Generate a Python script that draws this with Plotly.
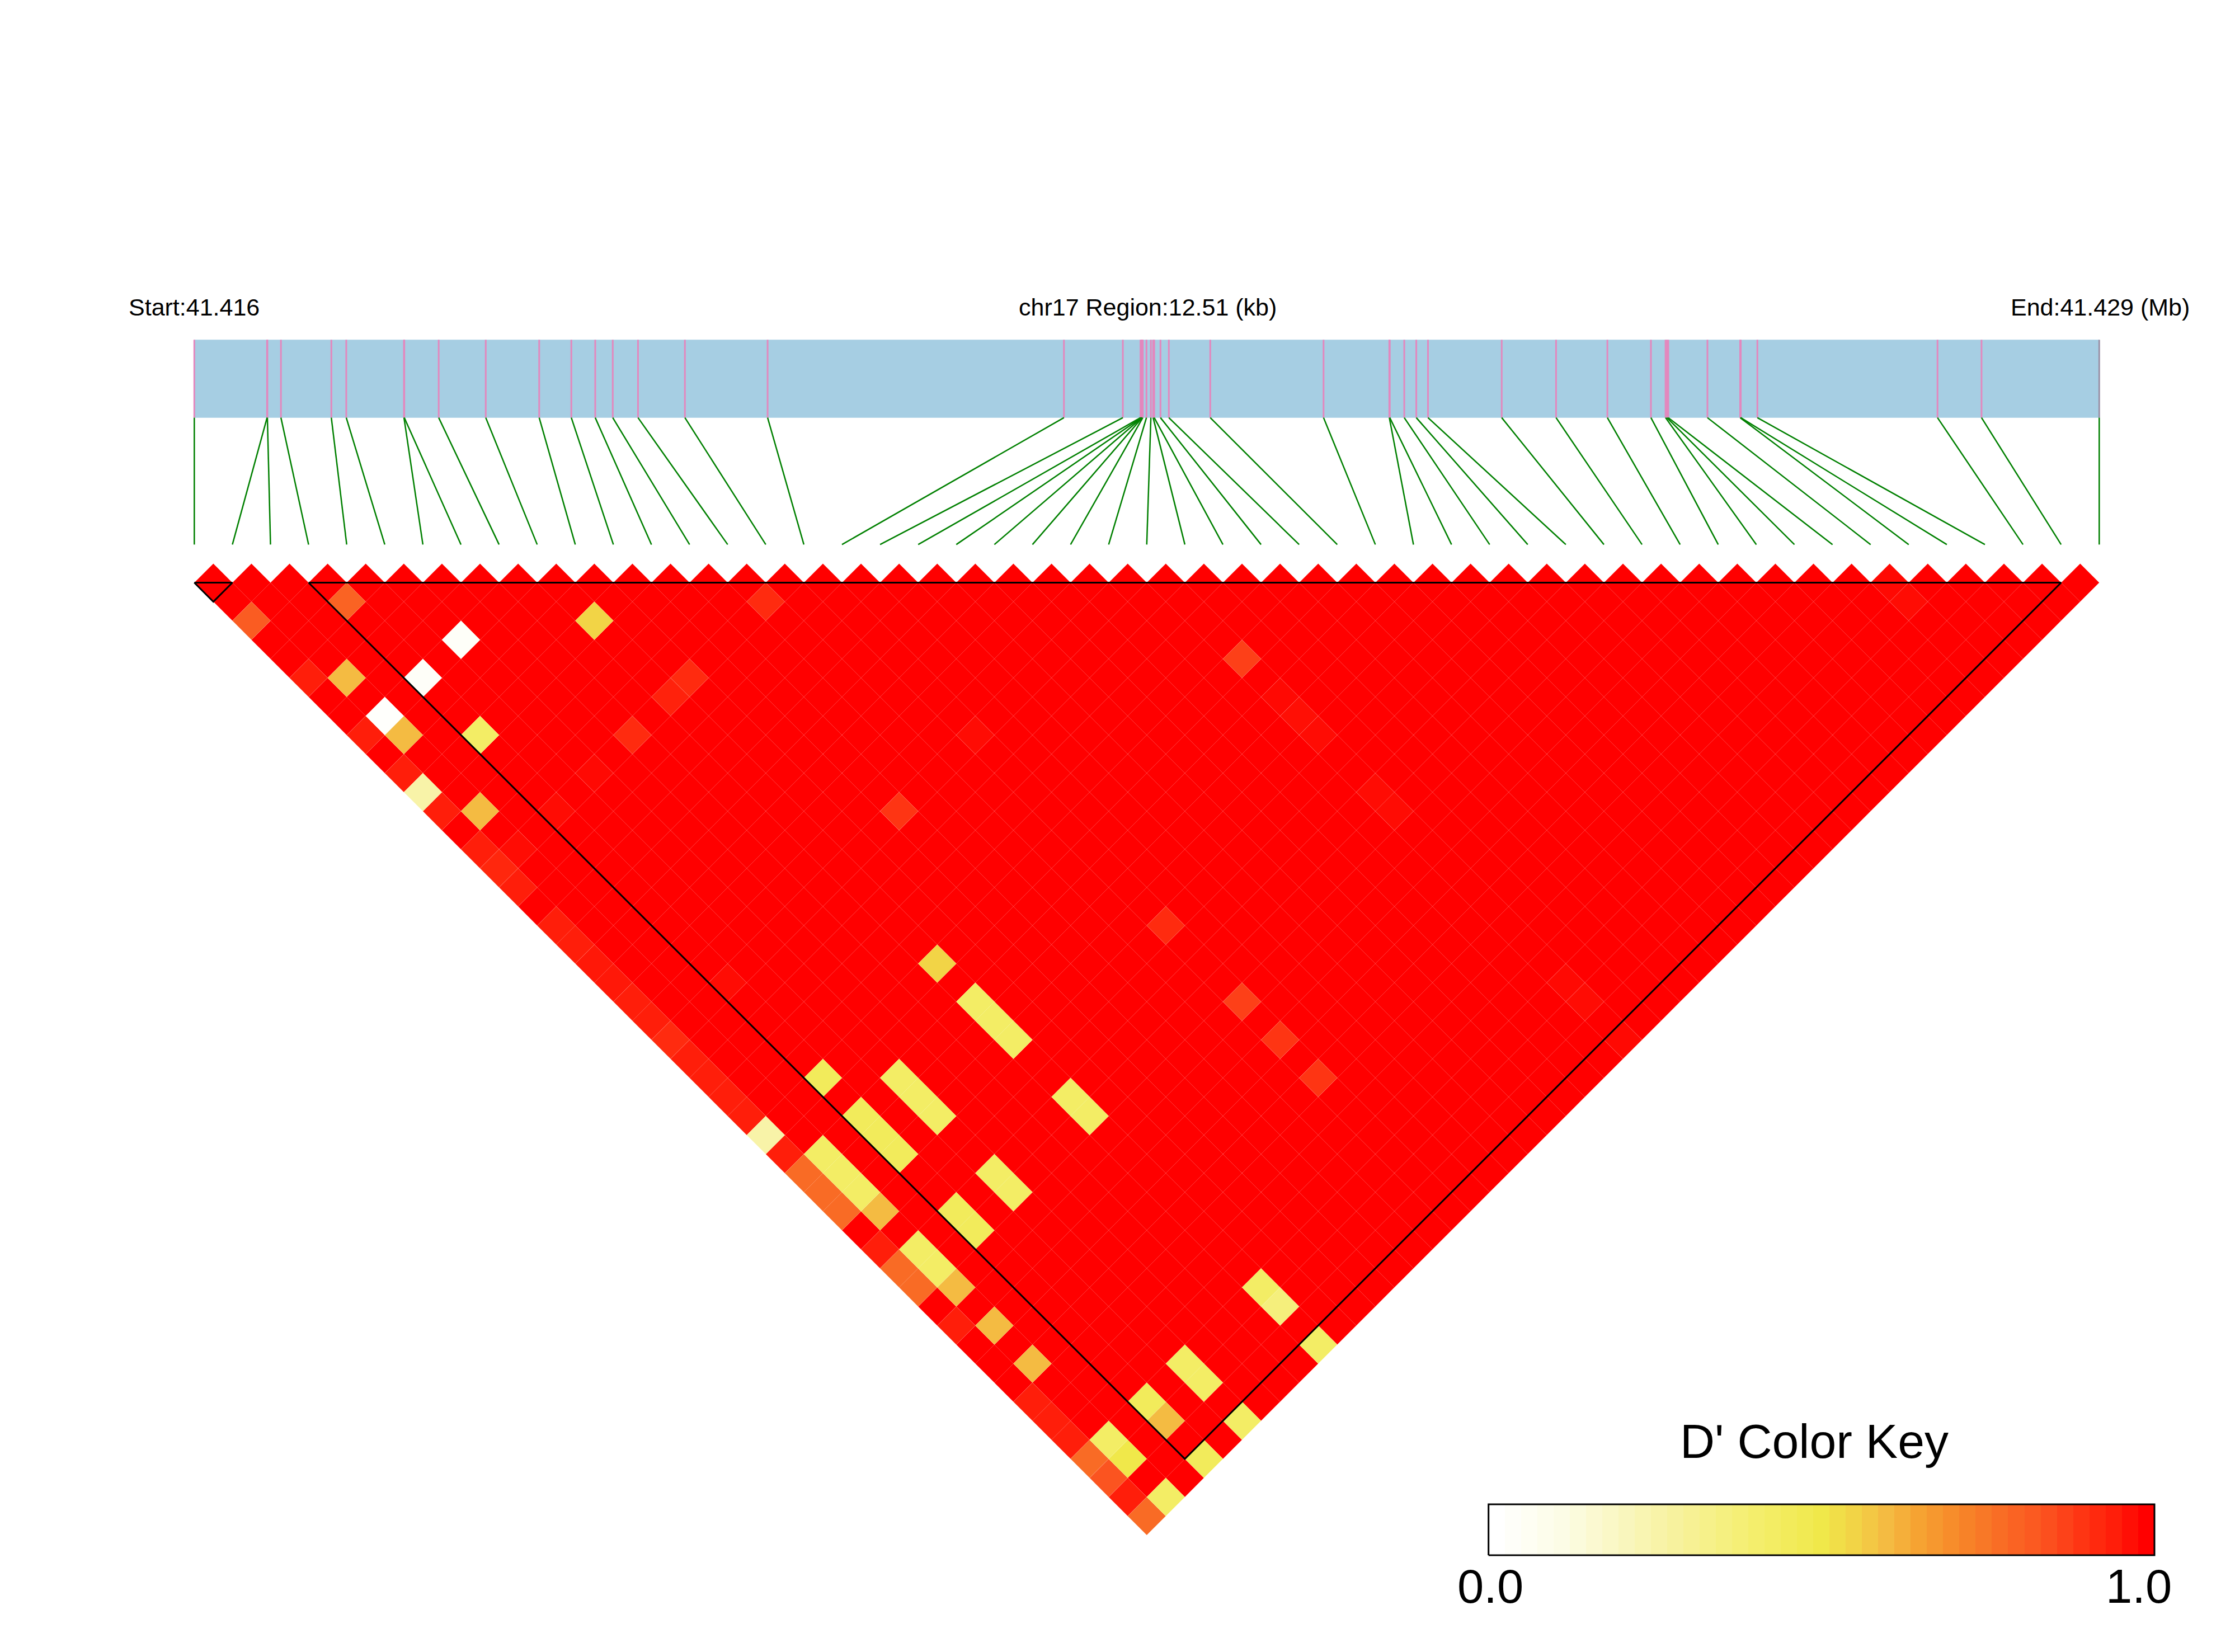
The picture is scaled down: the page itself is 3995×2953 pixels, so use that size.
import plotly.graph_objects as go

# --- data ---
n_snps = 51
region_kb = 12.51
snp_pos_kb = [0.000, 0.478, 0.480, 0.569, 0.900, 0.998, 1.377, 1.379, 1.605, 1.914,
              2.265, 2.476, 2.633, 2.748, 2.914, 3.222, 3.765, 5.711, 6.098, 6.214,
              6.220, 6.223, 6.225, 6.229, 6.253, 6.282, 6.297, 6.304, 6.345, 6.400,
              6.672, 7.416, 7.848, 7.851, 7.946, 8.025, 8.102, 8.586, 8.943, 9.280,
              9.566, 9.662, 9.671, 9.680, 9.937, 10.152, 10.156, 10.265, 11.448, 11.737,
              12.510]

# pairs whose D' is below 1.0 (all other pairs are 1.0)
pair_i = [3, 14, 0, 9, 5, 25, 1, 3, 0, 10, 9, 1, 1, 3, 0, 7, 16, 25, 25, 25,
          0, 0, 0, 1, 5, 3, 3, 1, 12, 9, 9, 9, 9,
          0, 0, 0, 0, 0, 0, 0, 0, 0, 0, 0, 0, 0, 0, 0, 0, 0, 0, 0, 0, 0, 0, 0, 0, 0, 0,
          0, 0, 0, 0,
          1, 1, 1, 1, 1, 1, 1, 1, 1, 1, 1, 1,
          3, 3, 3, 3, 3, 3, 3, 3, 3, 5, 5, 5, 5, 5, 5, 5, 5,
          9, 9, 9, 9, 9, 16, 16, 16, 16, 25, 25, 25, 25, 25, 44, 44]
pair_j = [5, 16, 3, 12, 9, 30, 7, 9, 6, 16, 16, 9, 10, 12, 9, 16, 25, 32, 33, 34,
          11, 12, 13, 14, 16, 16, 25, 16, 25, 30, 32, 33, 34,
          15, 16, 17, 19, 20, 21, 22, 23, 24, 25, 26, 27, 28, 29, 30, 31, 32, 33, 34, 36, 37, 38, 40, 44, 45, 46,
          47, 48, 49, 50,
          32, 33, 34, 35, 37, 38, 39, 41, 43, 47, 48, 50,
          30, 32, 33, 34, 37, 38, 47, 48, 50, 32, 33, 34, 37, 38, 47, 48, 50,
          37, 38, 47, 48, 50, 35, 39, 41, 43, 37, 38, 47, 48, 50, 45, 46]
pair_d = [0.80, 0.92, 0.82, 0.55, 0.03, 0.88, 0.60, 0.03, 0.95, 0.92, 0.94, 0.01, 0.60, 0.42, 0.95, 0.92, 0.98, 0.985, 0.975, 0.98,
          0.95, 0.25, 0.95, 0.60, 0.985, 0.98, 0.98, 0.98, 0.90, 0.55, 0.42, 0.42, 0.42,
          0.95, 0.93, 0.95, 0.95, 0.95, 0.96, 0.96, 0.95, 0.95, 0.92, 0.95, 0.95, 0.95, 0.95, 0.25, 0.95, 0.78, 0.78, 0.78, 0.95, 0.78, 0.78, 0.95, 0.95, 0.95, 0.95,
          0.78, 0.84, 0.95, 0.78,
          0.42, 0.42, 0.42, 0.60, 0.42, 0.42, 0.60, 0.60, 0.60, 0.42, 0.50, 0.42,
          0.45, 0.45, 0.45, 0.45, 0.45, 0.45, 0.45, 0.60, 0.45, 0.42, 0.42, 0.42, 0.42, 0.42, 0.42, 0.42, 0.42,
          0.42, 0.42, 0.42, 0.36, 0.42, 0.92, 0.88, 0.90, 0.90, 0.98, 0.98, 0.985, 0.98, 0.985, 0.985, 0.98]

blocks = [(0, 1), (3, 49)]
key_stops = [0.0, 0.1, 0.25, 0.4, 0.5, 0.55, 0.6, 0.65, 0.725, 0.78, 0.84, 0.92, 0.95, 1.0]
key_colors = ['#FFFFFF', '#FCFCE6', '#F8F3A8', '#F4EE6C', '#F0E84A', '#F2D446', '#F4BB42',
              '#F6A332', '#F78228', '#F96B25', '#FB5420', '#FF2B0F', '#FF1E0A', '#FF0000']
key_levels = 41

# --- colour lookup ---
def h2r(h):
    return [int(h[k:k + 2], 16) for k in (1, 3, 5)]

def colour(v):
    for a, b, ca, cb in zip(key_stops, key_stops[1:], key_colors, key_colors[1:]):
        if v <= b:
            t = (v - a) / (b - a)
            r = [round(p + (q - p) * t) for p, q in zip(h2r(ca), h2r(cb))]
            return 'rgb(%d,%d,%d)' % tuple(r)
    return key_colors[-1]

dprime = {(i, j): d for i, j, d in zip(pair_i, pair_j, pair_d)}

groups = {}
for i in range(n_snps - 1):
    for j in range(i + 1, n_snps):
        d = dprime.get((i, j), 1.0)
        xc, yc = (i + j) / 2, j - i - 1
        g = groups.setdefault(d, ([], []))
        g[0].extend([xc - .5, xc, xc + .5, xc, xc - .5, None])
        g[1].extend([yc, yc - 1, yc, yc + 1, yc, None])

fig = go.Figure()
for d in sorted(groups, reverse=True):
    xs, ys = groups[d]
    fig.add_trace(go.Scatter(x=xs, y=ys, mode='lines', fill='toself', fillcolor=colour(d),
                             line=dict(color='rgba(255,255,255,0.13)', width=1),
                             hoverinfo='skip', showlegend=False))

# genome bar
BAR_TOP, BAR_BOT, LINE_END = -12.75, -8.66, -2.0
idx = [p / region_kb * (n_snps - 1) for p in snp_pos_kb]
fig.add_trace(go.Scatter(x=[0, n_snps - 1, n_snps - 1, 0, 0], y=[BAR_TOP, BAR_TOP, BAR_BOT, BAR_BOT, BAR_TOP],
                         mode='lines', fill='toself', fillcolor='#A6CEE3', line=dict(width=0),
                         hoverinfo='skip', showlegend=False))
mx, my, lx, ly = [], [], [], []
for k, p in enumerate(idx):
    if k < n_snps - 1:
        mx += [p, p, None]
        my += [BAR_TOP, BAR_BOT, None]
    lx += [p, k, None]
    ly += [BAR_BOT, LINE_END, None]
fig.add_trace(go.Scatter(x=mx, y=my, mode='lines', line=dict(color='#E388BE', width=3),
                         hoverinfo='skip', showlegend=False))
fig.add_trace(go.Scatter(x=[idx[-1], idx[-1]], y=[BAR_TOP, BAR_BOT], mode='lines',
                         line=dict(color='#9A93A8', width=3), hoverinfo='skip', showlegend=False))
fig.add_trace(go.Scatter(x=lx, y=ly, mode='lines', line=dict(color='#008000', width=2.5),
                         hoverinfo='skip', showlegend=False))

# block outlines
bx, by = [], []
for a, b in blocks:
    bx += [a, b, (a + b) / 2, a, None]
    by += [0, 0, b - a, 0, None]
fig.add_trace(go.Scatter(x=bx, y=by, mode='lines', line=dict(color='black', width=3),
                         hoverinfo='skip', showlegend=False))

# colour key
levels = [k / (key_levels - 1) for k in range(key_levels)]
fig.add_trace(go.Heatmap(z=[levels], x0=0.5 / key_levels, dx=1 / key_levels, y0=0.5, dy=1,
                         zmin=0, zmax=1, showscale=False, hoverinfo='skip', xaxis='x2', yaxis='y2',
                         colorscale=list(zip(key_stops, key_colors))))
fig.add_trace(go.Scatter(x=[0, 1, 1, 0, 0], y=[0, 0, 1, 1, 0], mode='lines', xaxis='x2', yaxis='y2',
                         line=dict(color='black', width=3), hoverinfo='skip', showlegend=False))

W, H = 3995, 2953
FONT = 'Liberation Sans, Arial, sans-serif'
def note(text, x, y, size):
    fig.add_annotation(text=text, x=x / W, y=1 - y / H, xref='paper', yref='paper', showarrow=False,
                       xanchor='center', yanchor='middle', font=dict(family=FONT, size=size, color='black'))

note('Start:41.416', 347, 549, 43)
note('chr17 Region:12.51 (kb)', 2051, 549, 43)
note('End:41.429 (Mb)', 3754, 549, 43)
note("D' Color Key", 3243, 2576, 86)
note('0.0', 2664, 2835, 85)
note('1.0', 3823, 2835, 85)

# the key's axes reach a few pixels past the bar so its black frame is not clipped
KX0, KX1, KY0, KY1, PAD = 2660.7, 3851.0, 2689.0, 2780.0, 5.0
pad_x, pad_y = PAD / (KX1 - KX0), PAD / (KY1 - KY0)
ax = dict(visible=False, showgrid=False, zeroline=False)
fig.update_layout(
    width=W, height=H, margin=dict(l=0, r=0, t=0, b=0), autosize=False,
    paper_bgcolor='white', plot_bgcolor='white', showlegend=False,
    xaxis=dict(range=[-347.3 / 68.1, (W - 347.3) / 68.1], domain=[0, 1], **ax),
    yaxis=dict(range=[(H - 1041.5) / 34.05, -1041.5 / 34.05], domain=[0, 1], **ax),
    xaxis2=dict(range=[-pad_x, 1 + pad_x], domain=[(KX0 - PAD) / W, (KX1 + PAD) / W], anchor='y2', **ax),
    yaxis2=dict(range=[-pad_y, 1 + pad_y], domain=[1 - (KY1 + PAD) / H, 1 - (KY0 - PAD) / H], anchor='x2', **ax),
)
fig.write_html('out.html', config={'displayModeBar': False}, post_script="document.body.style.margin='0';")
